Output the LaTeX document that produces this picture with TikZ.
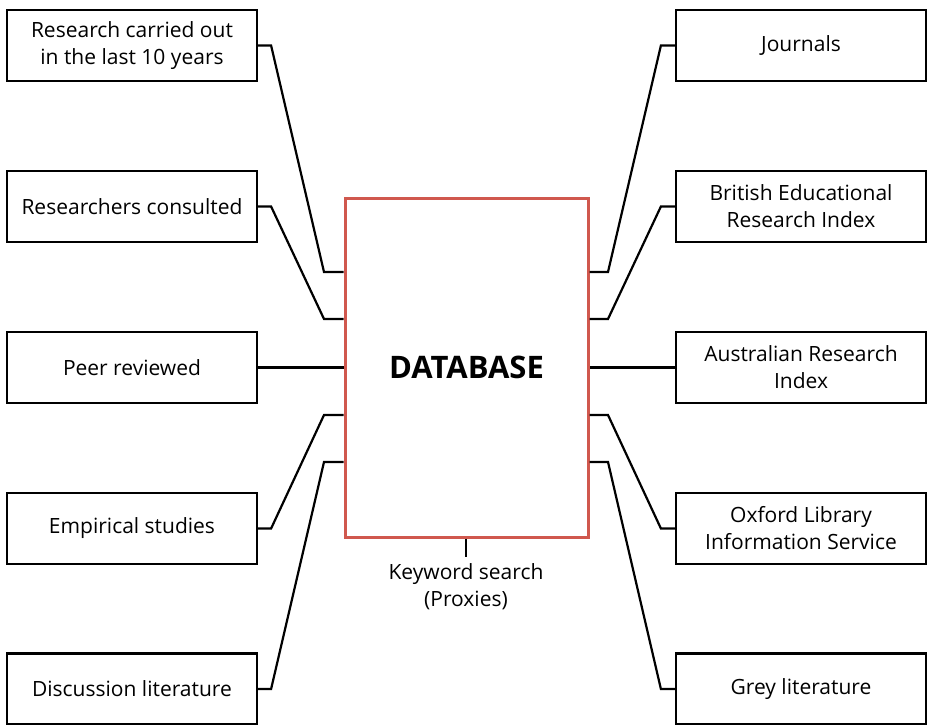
\documentclass[tikz,border=0pt]{standalone}
\usepackage{fontspec}
\setmainfont{Open Sans}
\begin{document}
\begin{tikzpicture}[x=1pt,y=-1pt,
  itembox/.style={draw=black,line width=2.2pt,minimum width=250pt,minimum height=71pt,align=center,font=\fontsize{21}{27}\selectfont,inner sep=0pt},
  conn/.style={draw=black,line width=2.2pt,line join=miter}]
\definecolor{dbred}{RGB}{208,88,78}
\useasboundingbox (0,0) rectangle (929,725);
% left boxes
\node[itembox] (l1) at (132,45.5) {Research carried out\\in the last 10 years};
\node[itembox] (l2) at (132,206.5) {Researchers consulted};
\node[itembox] (l3) at (132,367.5) {Peer reviewed};
\node[itembox] (l4) at (132,528.5) {Empirical studies};
\node[itembox] (l5) at (132,689) {Discussion literature};
% right boxes
\node[itembox] (r1) at (801,45.5) {Journals};
\node[itembox] (r2) at (801,206.5) {British Educational\\Research Index};
\node[itembox] (r3) at (801,367.5) {Australian Research\\Index};
\node[itembox] (r4) at (801,528.5) {Oxford Library\\Information Service};
\node[itembox] (r5) at (801,689) {Grey literature};
% database
\node[draw=dbred,line width=3pt,minimum width=243pt,minimum height=339pt,inner sep=0pt,font=\fontsize{31}{36}\selectfont\bfseries] (db) at (466.5,367.5) {DATABASE};
% left connectors
\draw[conn] (l1.east) -- ++(13,0) -- (324,272) -- (db.west |- 0,272);
\draw[conn] (l2.east) -- ++(13,0) -- (324,319) -- (db.west |- 0,319);
\draw[conn] (l3.east) -- (db.west |- l3.east);
\draw[conn] (l4.east) -- ++(13,0) -- (324,415) -- (db.west |- 0,415);
\draw[conn] (l5.east) -- ++(13,0) -- (324,462) -- (db.west |- 0,462);
% right connectors
\draw[conn] (r1.west) -- ++(-14,0) -- (608,272) -- (db.east |- 0,272);
\draw[conn] (r2.west) -- ++(-14,0) -- (608,319) -- (db.east |- 0,319);
\draw[conn] (r3.west) -- (db.east |- r3.west);
\draw[conn] (r4.west) -- ++(-14,0) -- (608,415) -- (db.east |- 0,415);
\draw[conn] (r5.west) -- ++(-14,0) -- (608,462) -- (db.east |- 0,462);
% keyword search
\coordinate (kt) at (466,557);
\draw[conn] (db.south -| kt) -- (kt);
\node[align=center,anchor=north,inner sep=0pt,font=\fontsize{21}{27}\selectfont] (kw) at (466,563) {Keyword search\\(Proxies)};
\end{tikzpicture}
\end{document}
